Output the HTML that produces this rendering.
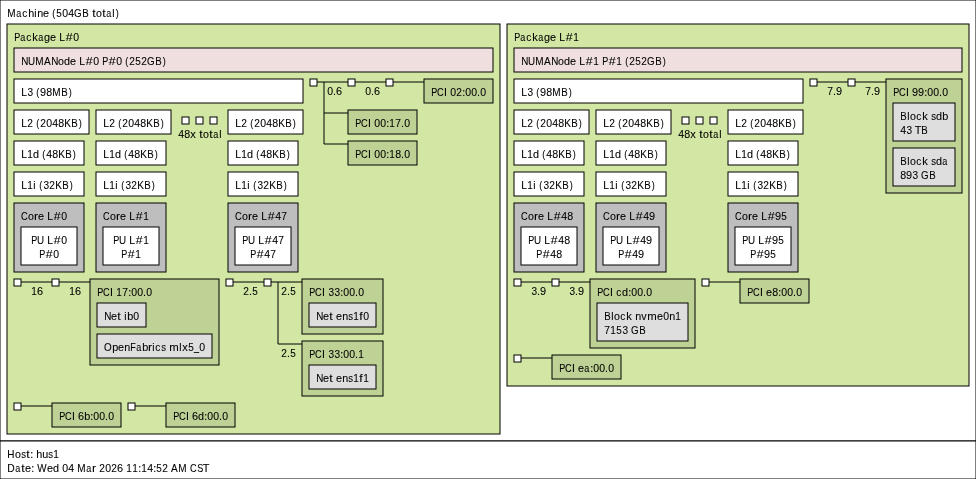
<!DOCTYPE html>
<html><head><meta charset="utf-8"><title>lstopo</title>
<style>
html,body{margin:0;padding:0;background:#fff;overflow:hidden;width:976px;height:479px;}
svg{display:block;will-change:transform;}
text{font-family:"Liberation Sans",sans-serif;font-size:10.5px;fill:#000;stroke:#000;stroke-width:0.08px;}
</style></head>
<body>
<svg width="976" height="479" viewBox="0 0 976 479">
<rect x="0" y="0" width="976" height="441" fill="#ffffff" stroke="#000" stroke-width="1"/>
<text y="17"><tspan x="7.16" textLength="8.31" lengthAdjust="spacingAndGlyphs">M</tspan><tspan x="16.21" textLength="5.02" lengthAdjust="spacingAndGlyphs">a</tspan><tspan x="22.13" textLength="5.02" lengthAdjust="spacingAndGlyphs">c</tspan><tspan x="28.16" textLength="6.04" lengthAdjust="spacingAndGlyphs">h</tspan><tspan x="34.26" textLength="2.27" lengthAdjust="spacingAndGlyphs">i</tspan><tspan x="37.19" textLength="6.00" lengthAdjust="spacingAndGlyphs">n</tspan><tspan x="43.09" textLength="6.01" lengthAdjust="spacingAndGlyphs">e</tspan> <tspan x="52.22" textLength="3.01" lengthAdjust="spacingAndGlyphs">(</tspan><tspan x="56.37" textLength="5.53" lengthAdjust="spacingAndGlyphs">5</tspan><tspan x="62.25">0</tspan><tspan x="68.25">4</tspan><tspan x="74.07" textLength="7.59" lengthAdjust="spacingAndGlyphs">G</tspan><tspan x="82.18" textLength="6.48" lengthAdjust="spacingAndGlyphs">B</tspan> <tspan x="92.21" textLength="3.44" lengthAdjust="spacingAndGlyphs">t</tspan><tspan x="96.11" textLength="5.91" lengthAdjust="spacingAndGlyphs">o</tspan><tspan x="102.21" textLength="3.44" lengthAdjust="spacingAndGlyphs">t</tspan><tspan x="106.21" textLength="5.02" lengthAdjust="spacingAndGlyphs">a</tspan><tspan x="112.25" textLength="2.27" lengthAdjust="spacingAndGlyphs">l</tspan><tspan x="115.67" textLength="3.01" lengthAdjust="spacingAndGlyphs">)</tspan></text>
<rect x="0" y="441" width="976" height="38" fill="#ffffff" stroke="#000" stroke-width="1"/>
<text y="458"><tspan x="7.17" textLength="7.18" lengthAdjust="spacingAndGlyphs">H</tspan><tspan x="15.11" textLength="5.91" lengthAdjust="spacingAndGlyphs">o</tspan><tspan x="21.28" textLength="4.79" lengthAdjust="spacingAndGlyphs">s</tspan><tspan x="26.21" textLength="3.44" lengthAdjust="spacingAndGlyphs">t</tspan><tspan x="30.18" textLength="3.01" lengthAdjust="spacingAndGlyphs">:</tspan> <tspan x="36.16" textLength="6.04" lengthAdjust="spacingAndGlyphs">h</tspan><tspan x="42.15" textLength="6.00" lengthAdjust="spacingAndGlyphs">u</tspan><tspan x="48.28" textLength="4.79" lengthAdjust="spacingAndGlyphs">s</tspan><tspan x="53.33" textLength="5.60" lengthAdjust="spacingAndGlyphs">1</tspan></text>
<text y="472"><tspan x="7.13" textLength="7.47" lengthAdjust="spacingAndGlyphs">D</tspan><tspan x="15.21" textLength="5.02" lengthAdjust="spacingAndGlyphs">a</tspan><tspan x="21.21" textLength="3.44" lengthAdjust="spacingAndGlyphs">t</tspan><tspan x="25.09" textLength="6.01" lengthAdjust="spacingAndGlyphs">e</tspan><tspan x="31.18" textLength="3.01" lengthAdjust="spacingAndGlyphs">:</tspan> <tspan x="37.29" textLength="9.31" lengthAdjust="spacingAndGlyphs">W</tspan><tspan x="47.09" textLength="6.01" lengthAdjust="spacingAndGlyphs">e</tspan><tspan x="53.10" textLength="6.04" lengthAdjust="spacingAndGlyphs">d</tspan> <tspan x="62.25">0</tspan><tspan x="68.25">4</tspan> <tspan x="77.16" textLength="8.31" lengthAdjust="spacingAndGlyphs">M</tspan><tspan x="86.21" textLength="5.02" lengthAdjust="spacingAndGlyphs">a</tspan><tspan x="92.14" textLength="4.13" lengthAdjust="spacingAndGlyphs">r</tspan> <tspan x="99.22" textLength="5.65" lengthAdjust="spacingAndGlyphs">2</tspan><tspan x="105.25">0</tspan><tspan x="111.22" textLength="5.65" lengthAdjust="spacingAndGlyphs">2</tspan><tspan x="117.14" textLength="6.07" lengthAdjust="spacingAndGlyphs">6</tspan> <tspan x="126.33" textLength="5.60" lengthAdjust="spacingAndGlyphs">1</tspan><tspan x="132.33" textLength="5.60" lengthAdjust="spacingAndGlyphs">1</tspan><tspan x="138.18" textLength="3.01" lengthAdjust="spacingAndGlyphs">:</tspan><tspan x="141.33" textLength="5.60" lengthAdjust="spacingAndGlyphs">1</tspan><tspan x="147.25">4</tspan><tspan x="153.18" textLength="3.01" lengthAdjust="spacingAndGlyphs">:</tspan><tspan x="156.37" textLength="5.53" lengthAdjust="spacingAndGlyphs">5</tspan><tspan x="162.22" textLength="5.65" lengthAdjust="spacingAndGlyphs">2</tspan> <tspan x="171.06" textLength="6.72" lengthAdjust="spacingAndGlyphs">A</tspan><tspan x="178.16" textLength="8.31" lengthAdjust="spacingAndGlyphs">M</tspan> <tspan x="190.09" textLength="6.70" lengthAdjust="spacingAndGlyphs">C</tspan><tspan x="197.22" textLength="6.02" lengthAdjust="spacingAndGlyphs">S</tspan><tspan x="202.73" textLength="6.66" lengthAdjust="spacingAndGlyphs">T</tspan></text>
<rect x="7" y="24" width="493" height="410" fill="#d2e7a4" stroke="#000" stroke-width="1"/>
<text y="41"><tspan x="14.19" textLength="6.02" lengthAdjust="spacingAndGlyphs">P</tspan><tspan x="20.21" textLength="5.02" lengthAdjust="spacingAndGlyphs">a</tspan><tspan x="26.13" textLength="5.02" lengthAdjust="spacingAndGlyphs">c</tspan><tspan x="32.15" textLength="5.59" lengthAdjust="spacingAndGlyphs">k</tspan><tspan x="38.21" textLength="5.02" lengthAdjust="spacingAndGlyphs">a</tspan><tspan x="44.10" textLength="6.04" lengthAdjust="spacingAndGlyphs">g</tspan><tspan x="50.09" textLength="6.01" lengthAdjust="spacingAndGlyphs">e</tspan> <tspan x="59.14" textLength="5.72" lengthAdjust="spacingAndGlyphs">L</tspan><tspan x="65.75" textLength="6.89" lengthAdjust="spacingAndGlyphs">#</tspan><tspan x="73.25">0</tspan></text>
<rect x="14" y="48" width="479" height="24" fill="#efdfde" stroke="#000" stroke-width="1"/>
<text y="65"><tspan x="21.17" textLength="7.13" lengthAdjust="spacingAndGlyphs">N</tspan><tspan x="28.11" textLength="7.10" lengthAdjust="spacingAndGlyphs">U</tspan><tspan x="35.16" textLength="8.31" lengthAdjust="spacingAndGlyphs">M</tspan><tspan x="44.06" textLength="6.72" lengthAdjust="spacingAndGlyphs">A</tspan><tspan x="51.17" textLength="7.13" lengthAdjust="spacingAndGlyphs">N</tspan><tspan x="58.11" textLength="5.91" lengthAdjust="spacingAndGlyphs">o</tspan><tspan x="64.10" textLength="6.04" lengthAdjust="spacingAndGlyphs">d</tspan><tspan x="70.09" textLength="6.01" lengthAdjust="spacingAndGlyphs">e</tspan> <tspan x="79.14" textLength="5.72" lengthAdjust="spacingAndGlyphs">L</tspan><tspan x="85.75" textLength="6.89" lengthAdjust="spacingAndGlyphs">#</tspan><tspan x="93.25">0</tspan> <tspan x="102.19" textLength="6.02" lengthAdjust="spacingAndGlyphs">P</tspan><tspan x="108.75" textLength="6.89" lengthAdjust="spacingAndGlyphs">#</tspan><tspan x="116.25">0</tspan> <tspan x="125.22" textLength="3.01" lengthAdjust="spacingAndGlyphs">(</tspan><tspan x="129.22" textLength="5.65" lengthAdjust="spacingAndGlyphs">2</tspan><tspan x="135.37" textLength="5.53" lengthAdjust="spacingAndGlyphs">5</tspan><tspan x="141.22" textLength="5.65" lengthAdjust="spacingAndGlyphs">2</tspan><tspan x="147.07" textLength="7.59" lengthAdjust="spacingAndGlyphs">G</tspan><tspan x="155.18" textLength="6.48" lengthAdjust="spacingAndGlyphs">B</tspan><tspan x="162.67" textLength="3.01" lengthAdjust="spacingAndGlyphs">)</tspan></text>
<rect x="14" y="79" width="289" height="24" fill="#ffffff" stroke="#000" stroke-width="1"/>
<text y="96"><tspan x="21.14" textLength="5.72" lengthAdjust="spacingAndGlyphs">L</tspan><tspan x="27.38" textLength="5.63" lengthAdjust="spacingAndGlyphs">3</tspan> <tspan x="36.22" textLength="3.01" lengthAdjust="spacingAndGlyphs">(</tspan><tspan x="40.12" textLength="6.06" lengthAdjust="spacingAndGlyphs">9</tspan><tspan x="46.22" textLength="5.93" lengthAdjust="spacingAndGlyphs">8</tspan><tspan x="52.16" textLength="8.31" lengthAdjust="spacingAndGlyphs">M</tspan><tspan x="61.18" textLength="6.48" lengthAdjust="spacingAndGlyphs">B</tspan><tspan x="68.67" textLength="3.01" lengthAdjust="spacingAndGlyphs">)</tspan></text>
<rect x="14" y="110" width="75" height="24" fill="#ffffff" stroke="#000" stroke-width="1"/>
<text y="127"><tspan x="21.14" textLength="5.72" lengthAdjust="spacingAndGlyphs">L</tspan><tspan x="27.22" textLength="5.65" lengthAdjust="spacingAndGlyphs">2</tspan> <tspan x="36.22" textLength="3.01" lengthAdjust="spacingAndGlyphs">(</tspan><tspan x="40.22" textLength="5.65" lengthAdjust="spacingAndGlyphs">2</tspan><tspan x="46.25">0</tspan><tspan x="52.25">4</tspan><tspan x="58.22" textLength="5.93" lengthAdjust="spacingAndGlyphs">8</tspan><tspan x="64.15" textLength="6.73" lengthAdjust="spacingAndGlyphs">K</tspan><tspan x="71.18" textLength="6.48" lengthAdjust="spacingAndGlyphs">B</tspan><tspan x="78.67" textLength="3.01" lengthAdjust="spacingAndGlyphs">)</tspan></text>
<rect x="14" y="141" width="70" height="24" fill="#ffffff" stroke="#000" stroke-width="1"/>
<text y="158"><tspan x="21.14" textLength="5.72" lengthAdjust="spacingAndGlyphs">L</tspan><tspan x="27.33" textLength="5.60" lengthAdjust="spacingAndGlyphs">1</tspan><tspan x="33.10" textLength="6.04" lengthAdjust="spacingAndGlyphs">d</tspan> <tspan x="42.22" textLength="3.01" lengthAdjust="spacingAndGlyphs">(</tspan><tspan x="46.25">4</tspan><tspan x="52.22" textLength="5.93" lengthAdjust="spacingAndGlyphs">8</tspan><tspan x="58.15" textLength="6.73" lengthAdjust="spacingAndGlyphs">K</tspan><tspan x="65.18" textLength="6.48" lengthAdjust="spacingAndGlyphs">B</tspan><tspan x="72.67" textLength="3.01" lengthAdjust="spacingAndGlyphs">)</tspan></text>
<rect x="14" y="172" width="70" height="24" fill="#ffffff" stroke="#000" stroke-width="1"/>
<text y="189"><tspan x="21.14" textLength="5.72" lengthAdjust="spacingAndGlyphs">L</tspan><tspan x="27.33" textLength="5.60" lengthAdjust="spacingAndGlyphs">1</tspan><tspan x="33.26" textLength="2.27" lengthAdjust="spacingAndGlyphs">i</tspan> <tspan x="39.22" textLength="3.01" lengthAdjust="spacingAndGlyphs">(</tspan><tspan x="43.38" textLength="5.63" lengthAdjust="spacingAndGlyphs">3</tspan><tspan x="49.22" textLength="5.65" lengthAdjust="spacingAndGlyphs">2</tspan><tspan x="55.15" textLength="6.73" lengthAdjust="spacingAndGlyphs">K</tspan><tspan x="62.18" textLength="6.48" lengthAdjust="spacingAndGlyphs">B</tspan><tspan x="69.67" textLength="3.01" lengthAdjust="spacingAndGlyphs">)</tspan></text>
<rect x="14" y="203" width="70" height="69" fill="#bebebe" stroke="#000" stroke-width="1"/>
<text y="220"><tspan x="21.09" textLength="6.70" lengthAdjust="spacingAndGlyphs">C</tspan><tspan x="28.11" textLength="5.91" lengthAdjust="spacingAndGlyphs">o</tspan><tspan x="34.14" textLength="4.13" lengthAdjust="spacingAndGlyphs">r</tspan><tspan x="38.09" textLength="6.01" lengthAdjust="spacingAndGlyphs">e</tspan> <tspan x="47.14" textLength="5.72" lengthAdjust="spacingAndGlyphs">L</tspan><tspan x="53.75" textLength="6.89" lengthAdjust="spacingAndGlyphs">#</tspan><tspan x="61.25">0</tspan></text>
<rect x="21" y="227" width="56" height="38" fill="#ffffff" stroke="#000" stroke-width="1"/>
<text y="244"><tspan x="31.19" textLength="6.02" lengthAdjust="spacingAndGlyphs">P</tspan><tspan x="37.11" textLength="7.10" lengthAdjust="spacingAndGlyphs">U</tspan> <tspan x="47.14" textLength="5.72" lengthAdjust="spacingAndGlyphs">L</tspan><tspan x="53.75" textLength="6.89" lengthAdjust="spacingAndGlyphs">#</tspan><tspan x="61.25">0</tspan></text>
<text y="258"><tspan x="39.19" textLength="6.02" lengthAdjust="spacingAndGlyphs">P</tspan><tspan x="45.75" textLength="6.89" lengthAdjust="spacingAndGlyphs">#</tspan><tspan x="53.25">0</tspan></text>
<rect x="96" y="110" width="75" height="24" fill="#ffffff" stroke="#000" stroke-width="1"/>
<text y="127"><tspan x="103.14" textLength="5.72" lengthAdjust="spacingAndGlyphs">L</tspan><tspan x="109.22" textLength="5.65" lengthAdjust="spacingAndGlyphs">2</tspan> <tspan x="118.22" textLength="3.01" lengthAdjust="spacingAndGlyphs">(</tspan><tspan x="122.22" textLength="5.65" lengthAdjust="spacingAndGlyphs">2</tspan><tspan x="128.25">0</tspan><tspan x="134.25">4</tspan><tspan x="140.22" textLength="5.93" lengthAdjust="spacingAndGlyphs">8</tspan><tspan x="146.15" textLength="6.73" lengthAdjust="spacingAndGlyphs">K</tspan><tspan x="153.18" textLength="6.48" lengthAdjust="spacingAndGlyphs">B</tspan><tspan x="160.67" textLength="3.01" lengthAdjust="spacingAndGlyphs">)</tspan></text>
<rect x="96" y="141" width="70" height="24" fill="#ffffff" stroke="#000" stroke-width="1"/>
<text y="158"><tspan x="103.14" textLength="5.72" lengthAdjust="spacingAndGlyphs">L</tspan><tspan x="109.33" textLength="5.60" lengthAdjust="spacingAndGlyphs">1</tspan><tspan x="115.10" textLength="6.04" lengthAdjust="spacingAndGlyphs">d</tspan> <tspan x="124.22" textLength="3.01" lengthAdjust="spacingAndGlyphs">(</tspan><tspan x="128.25">4</tspan><tspan x="134.22" textLength="5.93" lengthAdjust="spacingAndGlyphs">8</tspan><tspan x="140.15" textLength="6.73" lengthAdjust="spacingAndGlyphs">K</tspan><tspan x="147.18" textLength="6.48" lengthAdjust="spacingAndGlyphs">B</tspan><tspan x="154.67" textLength="3.01" lengthAdjust="spacingAndGlyphs">)</tspan></text>
<rect x="96" y="172" width="70" height="24" fill="#ffffff" stroke="#000" stroke-width="1"/>
<text y="189"><tspan x="103.14" textLength="5.72" lengthAdjust="spacingAndGlyphs">L</tspan><tspan x="109.33" textLength="5.60" lengthAdjust="spacingAndGlyphs">1</tspan><tspan x="115.26" textLength="2.27" lengthAdjust="spacingAndGlyphs">i</tspan> <tspan x="121.22" textLength="3.01" lengthAdjust="spacingAndGlyphs">(</tspan><tspan x="125.38" textLength="5.63" lengthAdjust="spacingAndGlyphs">3</tspan><tspan x="131.22" textLength="5.65" lengthAdjust="spacingAndGlyphs">2</tspan><tspan x="137.15" textLength="6.73" lengthAdjust="spacingAndGlyphs">K</tspan><tspan x="144.18" textLength="6.48" lengthAdjust="spacingAndGlyphs">B</tspan><tspan x="151.67" textLength="3.01" lengthAdjust="spacingAndGlyphs">)</tspan></text>
<rect x="96" y="203" width="70" height="69" fill="#bebebe" stroke="#000" stroke-width="1"/>
<text y="220"><tspan x="103.09" textLength="6.70" lengthAdjust="spacingAndGlyphs">C</tspan><tspan x="110.11" textLength="5.91" lengthAdjust="spacingAndGlyphs">o</tspan><tspan x="116.14" textLength="4.13" lengthAdjust="spacingAndGlyphs">r</tspan><tspan x="120.09" textLength="6.01" lengthAdjust="spacingAndGlyphs">e</tspan> <tspan x="129.14" textLength="5.72" lengthAdjust="spacingAndGlyphs">L</tspan><tspan x="135.75" textLength="6.89" lengthAdjust="spacingAndGlyphs">#</tspan><tspan x="143.33" textLength="5.60" lengthAdjust="spacingAndGlyphs">1</tspan></text>
<rect x="103" y="227" width="56" height="38" fill="#ffffff" stroke="#000" stroke-width="1"/>
<text y="244"><tspan x="113.19" textLength="6.02" lengthAdjust="spacingAndGlyphs">P</tspan><tspan x="119.11" textLength="7.10" lengthAdjust="spacingAndGlyphs">U</tspan> <tspan x="129.14" textLength="5.72" lengthAdjust="spacingAndGlyphs">L</tspan><tspan x="135.75" textLength="6.89" lengthAdjust="spacingAndGlyphs">#</tspan><tspan x="143.33" textLength="5.60" lengthAdjust="spacingAndGlyphs">1</tspan></text>
<text y="258"><tspan x="121.19" textLength="6.02" lengthAdjust="spacingAndGlyphs">P</tspan><tspan x="127.75" textLength="6.89" lengthAdjust="spacingAndGlyphs">#</tspan><tspan x="135.33" textLength="5.60" lengthAdjust="spacingAndGlyphs">1</tspan></text>
<rect x="228" y="110" width="75" height="24" fill="#ffffff" stroke="#000" stroke-width="1"/>
<text y="127"><tspan x="235.14" textLength="5.72" lengthAdjust="spacingAndGlyphs">L</tspan><tspan x="241.22" textLength="5.65" lengthAdjust="spacingAndGlyphs">2</tspan> <tspan x="250.22" textLength="3.01" lengthAdjust="spacingAndGlyphs">(</tspan><tspan x="254.22" textLength="5.65" lengthAdjust="spacingAndGlyphs">2</tspan><tspan x="260.25">0</tspan><tspan x="266.25">4</tspan><tspan x="272.22" textLength="5.93" lengthAdjust="spacingAndGlyphs">8</tspan><tspan x="278.15" textLength="6.73" lengthAdjust="spacingAndGlyphs">K</tspan><tspan x="285.18" textLength="6.48" lengthAdjust="spacingAndGlyphs">B</tspan><tspan x="292.67" textLength="3.01" lengthAdjust="spacingAndGlyphs">)</tspan></text>
<rect x="228" y="141" width="70" height="24" fill="#ffffff" stroke="#000" stroke-width="1"/>
<text y="158"><tspan x="235.14" textLength="5.72" lengthAdjust="spacingAndGlyphs">L</tspan><tspan x="241.33" textLength="5.60" lengthAdjust="spacingAndGlyphs">1</tspan><tspan x="247.10" textLength="6.04" lengthAdjust="spacingAndGlyphs">d</tspan> <tspan x="256.22" textLength="3.01" lengthAdjust="spacingAndGlyphs">(</tspan><tspan x="260.25">4</tspan><tspan x="266.22" textLength="5.93" lengthAdjust="spacingAndGlyphs">8</tspan><tspan x="272.15" textLength="6.73" lengthAdjust="spacingAndGlyphs">K</tspan><tspan x="279.18" textLength="6.48" lengthAdjust="spacingAndGlyphs">B</tspan><tspan x="286.67" textLength="3.01" lengthAdjust="spacingAndGlyphs">)</tspan></text>
<rect x="228" y="172" width="70" height="24" fill="#ffffff" stroke="#000" stroke-width="1"/>
<text y="189"><tspan x="235.14" textLength="5.72" lengthAdjust="spacingAndGlyphs">L</tspan><tspan x="241.33" textLength="5.60" lengthAdjust="spacingAndGlyphs">1</tspan><tspan x="247.26" textLength="2.27" lengthAdjust="spacingAndGlyphs">i</tspan> <tspan x="253.22" textLength="3.01" lengthAdjust="spacingAndGlyphs">(</tspan><tspan x="257.38" textLength="5.63" lengthAdjust="spacingAndGlyphs">3</tspan><tspan x="263.22" textLength="5.65" lengthAdjust="spacingAndGlyphs">2</tspan><tspan x="269.15" textLength="6.73" lengthAdjust="spacingAndGlyphs">K</tspan><tspan x="276.18" textLength="6.48" lengthAdjust="spacingAndGlyphs">B</tspan><tspan x="283.67" textLength="3.01" lengthAdjust="spacingAndGlyphs">)</tspan></text>
<rect x="228" y="203" width="70" height="69" fill="#bebebe" stroke="#000" stroke-width="1"/>
<text y="220"><tspan x="235.09" textLength="6.70" lengthAdjust="spacingAndGlyphs">C</tspan><tspan x="242.11" textLength="5.91" lengthAdjust="spacingAndGlyphs">o</tspan><tspan x="248.14" textLength="4.13" lengthAdjust="spacingAndGlyphs">r</tspan><tspan x="252.09" textLength="6.01" lengthAdjust="spacingAndGlyphs">e</tspan> <tspan x="261.14" textLength="5.72" lengthAdjust="spacingAndGlyphs">L</tspan><tspan x="267.75" textLength="6.89" lengthAdjust="spacingAndGlyphs">#</tspan><tspan x="275.25">4</tspan><tspan x="281.29" textLength="5.73" lengthAdjust="spacingAndGlyphs">7</tspan></text>
<rect x="235" y="227" width="56" height="38" fill="#ffffff" stroke="#000" stroke-width="1"/>
<text y="244"><tspan x="242.19" textLength="6.02" lengthAdjust="spacingAndGlyphs">P</tspan><tspan x="248.11" textLength="7.10" lengthAdjust="spacingAndGlyphs">U</tspan> <tspan x="258.14" textLength="5.72" lengthAdjust="spacingAndGlyphs">L</tspan><tspan x="264.75" textLength="6.89" lengthAdjust="spacingAndGlyphs">#</tspan><tspan x="272.25">4</tspan><tspan x="278.29" textLength="5.73" lengthAdjust="spacingAndGlyphs">7</tspan></text>
<text y="258"><tspan x="250.19" textLength="6.02" lengthAdjust="spacingAndGlyphs">P</tspan><tspan x="256.75" textLength="6.89" lengthAdjust="spacingAndGlyphs">#</tspan><tspan x="264.25">4</tspan><tspan x="270.29" textLength="5.73" lengthAdjust="spacingAndGlyphs">7</tspan></text>
<rect x="182" y="117" width="7" height="7" fill="#ffffff" stroke="#000" stroke-width="1"/>
<rect x="196" y="117" width="7" height="7" fill="#ffffff" stroke="#000" stroke-width="1"/>
<rect x="210" y="117" width="7" height="7" fill="#ffffff" stroke="#000" stroke-width="1"/>
<text y="138"><tspan x="178.25">4</tspan><tspan x="184.22" textLength="5.93" lengthAdjust="spacingAndGlyphs">8</tspan><tspan x="190.16" textLength="5.55" lengthAdjust="spacingAndGlyphs">x</tspan> <tspan x="199.21" textLength="3.44" lengthAdjust="spacingAndGlyphs">t</tspan><tspan x="203.11" textLength="5.91" lengthAdjust="spacingAndGlyphs">o</tspan><tspan x="209.21" textLength="3.44" lengthAdjust="spacingAndGlyphs">t</tspan><tspan x="213.21" textLength="5.02" lengthAdjust="spacingAndGlyphs">a</tspan><tspan x="219.25" textLength="2.27" lengthAdjust="spacingAndGlyphs">l</tspan></text>
<rect x="310" y="79" width="7" height="7" fill="#ffffff" stroke="#000" stroke-width="1"/>
<line x1="317" y1="82" x2="324" y2="82" stroke="#000" stroke-width="1"/>
<line x1="324" y1="82" x2="348" y2="82" stroke="#000" stroke-width="1"/>
<text y="95"><tspan x="327.25">0</tspan><tspan x="333.08" textLength="3.01" lengthAdjust="spacingAndGlyphs">.</tspan><tspan x="336.14" textLength="6.07" lengthAdjust="spacingAndGlyphs">6</tspan></text>
<line x1="324" y1="113" x2="348" y2="113" stroke="#000" stroke-width="1"/>
<line x1="324" y1="144" x2="348" y2="144" stroke="#000" stroke-width="1"/>
<line x1="324" y1="82" x2="324" y2="144" stroke="#000" stroke-width="1"/>
<rect x="348" y="79" width="7" height="7" fill="#ffffff" stroke="#000" stroke-width="1"/>
<line x1="355" y1="82" x2="362" y2="82" stroke="#000" stroke-width="1"/>
<line x1="362" y1="82" x2="386" y2="82" stroke="#000" stroke-width="1"/>
<text y="95"><tspan x="365.25">0</tspan><tspan x="371.08" textLength="3.01" lengthAdjust="spacingAndGlyphs">.</tspan><tspan x="374.14" textLength="6.07" lengthAdjust="spacingAndGlyphs">6</tspan></text>
<rect x="386" y="79" width="7" height="7" fill="#ffffff" stroke="#000" stroke-width="1"/>
<line x1="393" y1="82" x2="400" y2="82" stroke="#000" stroke-width="1"/>
<line x1="400" y1="82" x2="424" y2="82" stroke="#000" stroke-width="1"/>
<rect x="424" y="79" width="69" height="24" fill="#bed295" stroke="#000" stroke-width="1"/>
<text y="96"><tspan x="431.19" textLength="6.02" lengthAdjust="spacingAndGlyphs">P</tspan><tspan x="437.09" textLength="6.70" lengthAdjust="spacingAndGlyphs">C</tspan><tspan x="444.01">I</tspan> <tspan x="450.25">0</tspan><tspan x="456.22" textLength="5.65" lengthAdjust="spacingAndGlyphs">2</tspan><tspan x="462.18" textLength="3.01" lengthAdjust="spacingAndGlyphs">:</tspan><tspan x="465.25">0</tspan><tspan x="471.25">0</tspan><tspan x="477.08" textLength="3.01" lengthAdjust="spacingAndGlyphs">.</tspan><tspan x="480.25">0</tspan></text>
<rect x="348" y="110" width="69" height="24" fill="#bed295" stroke="#000" stroke-width="1"/>
<text y="127"><tspan x="355.19" textLength="6.02" lengthAdjust="spacingAndGlyphs">P</tspan><tspan x="361.09" textLength="6.70" lengthAdjust="spacingAndGlyphs">C</tspan><tspan x="368.01">I</tspan> <tspan x="374.25">0</tspan><tspan x="380.25">0</tspan><tspan x="386.18" textLength="3.01" lengthAdjust="spacingAndGlyphs">:</tspan><tspan x="389.33" textLength="5.60" lengthAdjust="spacingAndGlyphs">1</tspan><tspan x="395.29" textLength="5.73" lengthAdjust="spacingAndGlyphs">7</tspan><tspan x="401.08" textLength="3.01" lengthAdjust="spacingAndGlyphs">.</tspan><tspan x="404.25">0</tspan></text>
<rect x="348" y="141" width="69" height="24" fill="#bed295" stroke="#000" stroke-width="1"/>
<text y="158"><tspan x="355.19" textLength="6.02" lengthAdjust="spacingAndGlyphs">P</tspan><tspan x="361.09" textLength="6.70" lengthAdjust="spacingAndGlyphs">C</tspan><tspan x="368.01">I</tspan> <tspan x="374.25">0</tspan><tspan x="380.25">0</tspan><tspan x="386.18" textLength="3.01" lengthAdjust="spacingAndGlyphs">:</tspan><tspan x="389.33" textLength="5.60" lengthAdjust="spacingAndGlyphs">1</tspan><tspan x="395.22" textLength="5.93" lengthAdjust="spacingAndGlyphs">8</tspan><tspan x="401.08" textLength="3.01" lengthAdjust="spacingAndGlyphs">.</tspan><tspan x="404.25">0</tspan></text>
<rect x="14" y="279" width="7" height="7" fill="#ffffff" stroke="#000" stroke-width="1"/>
<line x1="21" y1="282" x2="28" y2="282" stroke="#000" stroke-width="1"/>
<line x1="28" y1="282" x2="52" y2="282" stroke="#000" stroke-width="1"/>
<text y="295"><tspan x="31.33" textLength="5.60" lengthAdjust="spacingAndGlyphs">1</tspan><tspan x="37.14" textLength="6.07" lengthAdjust="spacingAndGlyphs">6</tspan></text>
<rect x="52" y="279" width="7" height="7" fill="#ffffff" stroke="#000" stroke-width="1"/>
<line x1="59" y1="282" x2="66" y2="282" stroke="#000" stroke-width="1"/>
<line x1="66" y1="282" x2="90" y2="282" stroke="#000" stroke-width="1"/>
<text y="295"><tspan x="69.33" textLength="5.60" lengthAdjust="spacingAndGlyphs">1</tspan><tspan x="75.14" textLength="6.07" lengthAdjust="spacingAndGlyphs">6</tspan></text>
<rect x="90" y="279" width="129" height="86" fill="#bed295" stroke="#000" stroke-width="1"/>
<text y="296"><tspan x="97.19" textLength="6.02" lengthAdjust="spacingAndGlyphs">P</tspan><tspan x="103.09" textLength="6.70" lengthAdjust="spacingAndGlyphs">C</tspan><tspan x="110.01">I</tspan> <tspan x="116.33" textLength="5.60" lengthAdjust="spacingAndGlyphs">1</tspan><tspan x="122.29" textLength="5.73" lengthAdjust="spacingAndGlyphs">7</tspan><tspan x="128.18" textLength="3.01" lengthAdjust="spacingAndGlyphs">:</tspan><tspan x="131.25">0</tspan><tspan x="137.25">0</tspan><tspan x="143.08" textLength="3.01" lengthAdjust="spacingAndGlyphs">.</tspan><tspan x="146.25">0</tspan></text>
<rect x="97" y="303" width="49" height="24" fill="#dedede" stroke="#000" stroke-width="1"/>
<text y="320"><tspan x="104.17" textLength="7.13" lengthAdjust="spacingAndGlyphs">N</tspan><tspan x="111.09" textLength="6.01" lengthAdjust="spacingAndGlyphs">e</tspan><tspan x="117.21" textLength="3.44" lengthAdjust="spacingAndGlyphs">t</tspan> <tspan x="124.26" textLength="2.27" lengthAdjust="spacingAndGlyphs">i</tspan><tspan x="127.21" textLength="6.05" lengthAdjust="spacingAndGlyphs">b</tspan><tspan x="133.25">0</tspan></text>
<rect x="97" y="334" width="115" height="24" fill="#dedede" stroke="#000" stroke-width="1"/>
<text y="351"><tspan x="104.09" textLength="7.69" lengthAdjust="spacingAndGlyphs">O</tspan><tspan x="112.21" textLength="6.05" lengthAdjust="spacingAndGlyphs">p</tspan><tspan x="118.09" textLength="6.01" lengthAdjust="spacingAndGlyphs">e</tspan><tspan x="124.19" textLength="6.00" lengthAdjust="spacingAndGlyphs">n</tspan><tspan x="130.13" textLength="5.52" lengthAdjust="spacingAndGlyphs">F</tspan><tspan x="136.21" textLength="5.02" lengthAdjust="spacingAndGlyphs">a</tspan><tspan x="142.21" textLength="6.05" lengthAdjust="spacingAndGlyphs">b</tspan><tspan x="148.14" textLength="4.13" lengthAdjust="spacingAndGlyphs">r</tspan><tspan x="152.26" textLength="2.27" lengthAdjust="spacingAndGlyphs">i</tspan><tspan x="155.13" textLength="5.02" lengthAdjust="spacingAndGlyphs">c</tspan><tspan x="161.28" textLength="4.79" lengthAdjust="spacingAndGlyphs">s</tspan> <tspan x="169.15" textLength="9.49" lengthAdjust="spacingAndGlyphs">m</tspan><tspan x="179.25" textLength="2.27" lengthAdjust="spacingAndGlyphs">l</tspan><tspan x="182.16" textLength="5.55" lengthAdjust="spacingAndGlyphs">x</tspan><tspan x="188.37" textLength="5.53" lengthAdjust="spacingAndGlyphs">5</tspan><tspan x="194.01" textLength="5.02" lengthAdjust="spacingAndGlyphs">_</tspan><tspan x="199.25">0</tspan></text>
<rect x="226" y="279" width="7" height="7" fill="#ffffff" stroke="#000" stroke-width="1"/>
<line x1="233" y1="282" x2="240" y2="282" stroke="#000" stroke-width="1"/>
<line x1="240" y1="282" x2="264" y2="282" stroke="#000" stroke-width="1"/>
<text y="295"><tspan x="243.22" textLength="5.65" lengthAdjust="spacingAndGlyphs">2</tspan><tspan x="249.08" textLength="3.01" lengthAdjust="spacingAndGlyphs">.</tspan><tspan x="252.37" textLength="5.53" lengthAdjust="spacingAndGlyphs">5</tspan></text>
<rect x="264" y="279" width="7" height="7" fill="#ffffff" stroke="#000" stroke-width="1"/>
<line x1="271" y1="282" x2="278" y2="282" stroke="#000" stroke-width="1"/>
<line x1="278" y1="282" x2="302" y2="282" stroke="#000" stroke-width="1"/>
<text y="295"><tspan x="281.22" textLength="5.65" lengthAdjust="spacingAndGlyphs">2</tspan><tspan x="287.08" textLength="3.01" lengthAdjust="spacingAndGlyphs">.</tspan><tspan x="290.37" textLength="5.53" lengthAdjust="spacingAndGlyphs">5</tspan></text>
<line x1="278" y1="344" x2="302" y2="344" stroke="#000" stroke-width="1"/>
<text y="357"><tspan x="281.22" textLength="5.65" lengthAdjust="spacingAndGlyphs">2</tspan><tspan x="287.08" textLength="3.01" lengthAdjust="spacingAndGlyphs">.</tspan><tspan x="290.37" textLength="5.53" lengthAdjust="spacingAndGlyphs">5</tspan></text>
<line x1="278" y1="282" x2="278" y2="344" stroke="#000" stroke-width="1"/>
<rect x="302" y="279" width="81" height="55" fill="#bed295" stroke="#000" stroke-width="1"/>
<text y="296"><tspan x="309.19" textLength="6.02" lengthAdjust="spacingAndGlyphs">P</tspan><tspan x="315.09" textLength="6.70" lengthAdjust="spacingAndGlyphs">C</tspan><tspan x="322.01">I</tspan> <tspan x="328.38" textLength="5.63" lengthAdjust="spacingAndGlyphs">3</tspan><tspan x="334.38" textLength="5.63" lengthAdjust="spacingAndGlyphs">3</tspan><tspan x="340.18" textLength="3.01" lengthAdjust="spacingAndGlyphs">:</tspan><tspan x="343.25">0</tspan><tspan x="349.25">0</tspan><tspan x="355.08" textLength="3.01" lengthAdjust="spacingAndGlyphs">.</tspan><tspan x="358.25">0</tspan></text>
<rect x="309" y="303" width="67" height="24" fill="#dedede" stroke="#000" stroke-width="1"/>
<text y="320"><tspan x="316.17" textLength="7.13" lengthAdjust="spacingAndGlyphs">N</tspan><tspan x="323.09" textLength="6.01" lengthAdjust="spacingAndGlyphs">e</tspan><tspan x="329.21" textLength="3.44" lengthAdjust="spacingAndGlyphs">t</tspan> <tspan x="336.09" textLength="6.01" lengthAdjust="spacingAndGlyphs">e</tspan><tspan x="342.19" textLength="6.00" lengthAdjust="spacingAndGlyphs">n</tspan><tspan x="348.28" textLength="4.79" lengthAdjust="spacingAndGlyphs">s</tspan><tspan x="353.33" textLength="5.60" lengthAdjust="spacingAndGlyphs">1</tspan><tspan x="359.15" textLength="3.44" lengthAdjust="spacingAndGlyphs">f</tspan><tspan x="363.25">0</tspan></text>
<rect x="302" y="341" width="81" height="55" fill="#bed295" stroke="#000" stroke-width="1"/>
<text y="358"><tspan x="309.19" textLength="6.02" lengthAdjust="spacingAndGlyphs">P</tspan><tspan x="315.09" textLength="6.70" lengthAdjust="spacingAndGlyphs">C</tspan><tspan x="322.01">I</tspan> <tspan x="328.38" textLength="5.63" lengthAdjust="spacingAndGlyphs">3</tspan><tspan x="334.38" textLength="5.63" lengthAdjust="spacingAndGlyphs">3</tspan><tspan x="340.18" textLength="3.01" lengthAdjust="spacingAndGlyphs">:</tspan><tspan x="343.25">0</tspan><tspan x="349.25">0</tspan><tspan x="355.08" textLength="3.01" lengthAdjust="spacingAndGlyphs">.</tspan><tspan x="358.33" textLength="5.60" lengthAdjust="spacingAndGlyphs">1</tspan></text>
<rect x="309" y="365" width="67" height="24" fill="#dedede" stroke="#000" stroke-width="1"/>
<text y="382"><tspan x="316.17" textLength="7.13" lengthAdjust="spacingAndGlyphs">N</tspan><tspan x="323.09" textLength="6.01" lengthAdjust="spacingAndGlyphs">e</tspan><tspan x="329.21" textLength="3.44" lengthAdjust="spacingAndGlyphs">t</tspan> <tspan x="336.09" textLength="6.01" lengthAdjust="spacingAndGlyphs">e</tspan><tspan x="342.19" textLength="6.00" lengthAdjust="spacingAndGlyphs">n</tspan><tspan x="348.28" textLength="4.79" lengthAdjust="spacingAndGlyphs">s</tspan><tspan x="353.33" textLength="5.60" lengthAdjust="spacingAndGlyphs">1</tspan><tspan x="359.15" textLength="3.44" lengthAdjust="spacingAndGlyphs">f</tspan><tspan x="363.33" textLength="5.60" lengthAdjust="spacingAndGlyphs">1</tspan></text>
<rect x="14" y="403" width="7" height="7" fill="#ffffff" stroke="#000" stroke-width="1"/>
<line x1="21" y1="406" x2="28" y2="406" stroke="#000" stroke-width="1"/>
<line x1="28" y1="406" x2="52" y2="406" stroke="#000" stroke-width="1"/>
<rect x="52" y="403" width="69" height="24" fill="#bed295" stroke="#000" stroke-width="1"/>
<text y="420"><tspan x="59.19" textLength="6.02" lengthAdjust="spacingAndGlyphs">P</tspan><tspan x="65.09" textLength="6.70" lengthAdjust="spacingAndGlyphs">C</tspan><tspan x="72.01">I</tspan> <tspan x="78.14" textLength="6.07" lengthAdjust="spacingAndGlyphs">6</tspan><tspan x="84.21" textLength="6.05" lengthAdjust="spacingAndGlyphs">b</tspan><tspan x="90.18" textLength="3.01" lengthAdjust="spacingAndGlyphs">:</tspan><tspan x="93.25">0</tspan><tspan x="99.25">0</tspan><tspan x="105.08" textLength="3.01" lengthAdjust="spacingAndGlyphs">.</tspan><tspan x="108.25">0</tspan></text>
<rect x="128" y="403" width="7" height="7" fill="#ffffff" stroke="#000" stroke-width="1"/>
<line x1="135" y1="406" x2="142" y2="406" stroke="#000" stroke-width="1"/>
<line x1="142" y1="406" x2="166" y2="406" stroke="#000" stroke-width="1"/>
<rect x="166" y="403" width="69" height="24" fill="#bed295" stroke="#000" stroke-width="1"/>
<text y="420"><tspan x="173.19" textLength="6.02" lengthAdjust="spacingAndGlyphs">P</tspan><tspan x="179.09" textLength="6.70" lengthAdjust="spacingAndGlyphs">C</tspan><tspan x="186.01">I</tspan> <tspan x="192.14" textLength="6.07" lengthAdjust="spacingAndGlyphs">6</tspan><tspan x="198.10" textLength="6.04" lengthAdjust="spacingAndGlyphs">d</tspan><tspan x="204.18" textLength="3.01" lengthAdjust="spacingAndGlyphs">:</tspan><tspan x="207.25">0</tspan><tspan x="213.25">0</tspan><tspan x="219.08" textLength="3.01" lengthAdjust="spacingAndGlyphs">.</tspan><tspan x="222.25">0</tspan></text>
<rect x="507" y="24" width="462" height="362" fill="#d2e7a4" stroke="#000" stroke-width="1"/>
<text y="41"><tspan x="514.19" textLength="6.02" lengthAdjust="spacingAndGlyphs">P</tspan><tspan x="520.21" textLength="5.02" lengthAdjust="spacingAndGlyphs">a</tspan><tspan x="526.13" textLength="5.02" lengthAdjust="spacingAndGlyphs">c</tspan><tspan x="532.15" textLength="5.59" lengthAdjust="spacingAndGlyphs">k</tspan><tspan x="538.21" textLength="5.02" lengthAdjust="spacingAndGlyphs">a</tspan><tspan x="544.10" textLength="6.04" lengthAdjust="spacingAndGlyphs">g</tspan><tspan x="550.09" textLength="6.01" lengthAdjust="spacingAndGlyphs">e</tspan> <tspan x="559.14" textLength="5.72" lengthAdjust="spacingAndGlyphs">L</tspan><tspan x="565.75" textLength="6.89" lengthAdjust="spacingAndGlyphs">#</tspan><tspan x="573.33" textLength="5.60" lengthAdjust="spacingAndGlyphs">1</tspan></text>
<rect x="514" y="48" width="448" height="24" fill="#efdfde" stroke="#000" stroke-width="1"/>
<text y="65"><tspan x="521.17" textLength="7.13" lengthAdjust="spacingAndGlyphs">N</tspan><tspan x="528.11" textLength="7.10" lengthAdjust="spacingAndGlyphs">U</tspan><tspan x="535.16" textLength="8.31" lengthAdjust="spacingAndGlyphs">M</tspan><tspan x="544.06" textLength="6.72" lengthAdjust="spacingAndGlyphs">A</tspan><tspan x="551.17" textLength="7.13" lengthAdjust="spacingAndGlyphs">N</tspan><tspan x="558.11" textLength="5.91" lengthAdjust="spacingAndGlyphs">o</tspan><tspan x="564.10" textLength="6.04" lengthAdjust="spacingAndGlyphs">d</tspan><tspan x="570.09" textLength="6.01" lengthAdjust="spacingAndGlyphs">e</tspan> <tspan x="579.14" textLength="5.72" lengthAdjust="spacingAndGlyphs">L</tspan><tspan x="585.75" textLength="6.89" lengthAdjust="spacingAndGlyphs">#</tspan><tspan x="593.33" textLength="5.60" lengthAdjust="spacingAndGlyphs">1</tspan> <tspan x="602.19" textLength="6.02" lengthAdjust="spacingAndGlyphs">P</tspan><tspan x="608.75" textLength="6.89" lengthAdjust="spacingAndGlyphs">#</tspan><tspan x="616.33" textLength="5.60" lengthAdjust="spacingAndGlyphs">1</tspan> <tspan x="625.22" textLength="3.01" lengthAdjust="spacingAndGlyphs">(</tspan><tspan x="629.22" textLength="5.65" lengthAdjust="spacingAndGlyphs">2</tspan><tspan x="635.37" textLength="5.53" lengthAdjust="spacingAndGlyphs">5</tspan><tspan x="641.22" textLength="5.65" lengthAdjust="spacingAndGlyphs">2</tspan><tspan x="647.07" textLength="7.59" lengthAdjust="spacingAndGlyphs">G</tspan><tspan x="655.18" textLength="6.48" lengthAdjust="spacingAndGlyphs">B</tspan><tspan x="662.67" textLength="3.01" lengthAdjust="spacingAndGlyphs">)</tspan></text>
<rect x="514" y="79" width="289" height="24" fill="#ffffff" stroke="#000" stroke-width="1"/>
<text y="96"><tspan x="521.14" textLength="5.72" lengthAdjust="spacingAndGlyphs">L</tspan><tspan x="527.38" textLength="5.63" lengthAdjust="spacingAndGlyphs">3</tspan> <tspan x="536.22" textLength="3.01" lengthAdjust="spacingAndGlyphs">(</tspan><tspan x="540.12" textLength="6.06" lengthAdjust="spacingAndGlyphs">9</tspan><tspan x="546.22" textLength="5.93" lengthAdjust="spacingAndGlyphs">8</tspan><tspan x="552.16" textLength="8.31" lengthAdjust="spacingAndGlyphs">M</tspan><tspan x="561.18" textLength="6.48" lengthAdjust="spacingAndGlyphs">B</tspan><tspan x="568.67" textLength="3.01" lengthAdjust="spacingAndGlyphs">)</tspan></text>
<rect x="514" y="110" width="75" height="24" fill="#ffffff" stroke="#000" stroke-width="1"/>
<text y="127"><tspan x="521.14" textLength="5.72" lengthAdjust="spacingAndGlyphs">L</tspan><tspan x="527.22" textLength="5.65" lengthAdjust="spacingAndGlyphs">2</tspan> <tspan x="536.22" textLength="3.01" lengthAdjust="spacingAndGlyphs">(</tspan><tspan x="540.22" textLength="5.65" lengthAdjust="spacingAndGlyphs">2</tspan><tspan x="546.25">0</tspan><tspan x="552.25">4</tspan><tspan x="558.22" textLength="5.93" lengthAdjust="spacingAndGlyphs">8</tspan><tspan x="564.15" textLength="6.73" lengthAdjust="spacingAndGlyphs">K</tspan><tspan x="571.18" textLength="6.48" lengthAdjust="spacingAndGlyphs">B</tspan><tspan x="578.67" textLength="3.01" lengthAdjust="spacingAndGlyphs">)</tspan></text>
<rect x="514" y="141" width="70" height="24" fill="#ffffff" stroke="#000" stroke-width="1"/>
<text y="158"><tspan x="521.14" textLength="5.72" lengthAdjust="spacingAndGlyphs">L</tspan><tspan x="527.33" textLength="5.60" lengthAdjust="spacingAndGlyphs">1</tspan><tspan x="533.10" textLength="6.04" lengthAdjust="spacingAndGlyphs">d</tspan> <tspan x="542.22" textLength="3.01" lengthAdjust="spacingAndGlyphs">(</tspan><tspan x="546.25">4</tspan><tspan x="552.22" textLength="5.93" lengthAdjust="spacingAndGlyphs">8</tspan><tspan x="558.15" textLength="6.73" lengthAdjust="spacingAndGlyphs">K</tspan><tspan x="565.18" textLength="6.48" lengthAdjust="spacingAndGlyphs">B</tspan><tspan x="572.67" textLength="3.01" lengthAdjust="spacingAndGlyphs">)</tspan></text>
<rect x="514" y="172" width="70" height="24" fill="#ffffff" stroke="#000" stroke-width="1"/>
<text y="189"><tspan x="521.14" textLength="5.72" lengthAdjust="spacingAndGlyphs">L</tspan><tspan x="527.33" textLength="5.60" lengthAdjust="spacingAndGlyphs">1</tspan><tspan x="533.26" textLength="2.27" lengthAdjust="spacingAndGlyphs">i</tspan> <tspan x="539.22" textLength="3.01" lengthAdjust="spacingAndGlyphs">(</tspan><tspan x="543.38" textLength="5.63" lengthAdjust="spacingAndGlyphs">3</tspan><tspan x="549.22" textLength="5.65" lengthAdjust="spacingAndGlyphs">2</tspan><tspan x="555.15" textLength="6.73" lengthAdjust="spacingAndGlyphs">K</tspan><tspan x="562.18" textLength="6.48" lengthAdjust="spacingAndGlyphs">B</tspan><tspan x="569.67" textLength="3.01" lengthAdjust="spacingAndGlyphs">)</tspan></text>
<rect x="514" y="203" width="70" height="69" fill="#bebebe" stroke="#000" stroke-width="1"/>
<text y="220"><tspan x="521.09" textLength="6.70" lengthAdjust="spacingAndGlyphs">C</tspan><tspan x="528.11" textLength="5.91" lengthAdjust="spacingAndGlyphs">o</tspan><tspan x="534.14" textLength="4.13" lengthAdjust="spacingAndGlyphs">r</tspan><tspan x="538.09" textLength="6.01" lengthAdjust="spacingAndGlyphs">e</tspan> <tspan x="547.14" textLength="5.72" lengthAdjust="spacingAndGlyphs">L</tspan><tspan x="553.75" textLength="6.89" lengthAdjust="spacingAndGlyphs">#</tspan><tspan x="561.25">4</tspan><tspan x="567.22" textLength="5.93" lengthAdjust="spacingAndGlyphs">8</tspan></text>
<rect x="521" y="227" width="56" height="38" fill="#ffffff" stroke="#000" stroke-width="1"/>
<text y="244"><tspan x="528.19" textLength="6.02" lengthAdjust="spacingAndGlyphs">P</tspan><tspan x="534.11" textLength="7.10" lengthAdjust="spacingAndGlyphs">U</tspan> <tspan x="544.14" textLength="5.72" lengthAdjust="spacingAndGlyphs">L</tspan><tspan x="550.75" textLength="6.89" lengthAdjust="spacingAndGlyphs">#</tspan><tspan x="558.25">4</tspan><tspan x="564.22" textLength="5.93" lengthAdjust="spacingAndGlyphs">8</tspan></text>
<text y="258"><tspan x="536.19" textLength="6.02" lengthAdjust="spacingAndGlyphs">P</tspan><tspan x="542.75" textLength="6.89" lengthAdjust="spacingAndGlyphs">#</tspan><tspan x="550.25">4</tspan><tspan x="556.22" textLength="5.93" lengthAdjust="spacingAndGlyphs">8</tspan></text>
<rect x="596" y="110" width="75" height="24" fill="#ffffff" stroke="#000" stroke-width="1"/>
<text y="127"><tspan x="603.14" textLength="5.72" lengthAdjust="spacingAndGlyphs">L</tspan><tspan x="609.22" textLength="5.65" lengthAdjust="spacingAndGlyphs">2</tspan> <tspan x="618.22" textLength="3.01" lengthAdjust="spacingAndGlyphs">(</tspan><tspan x="622.22" textLength="5.65" lengthAdjust="spacingAndGlyphs">2</tspan><tspan x="628.25">0</tspan><tspan x="634.25">4</tspan><tspan x="640.22" textLength="5.93" lengthAdjust="spacingAndGlyphs">8</tspan><tspan x="646.15" textLength="6.73" lengthAdjust="spacingAndGlyphs">K</tspan><tspan x="653.18" textLength="6.48" lengthAdjust="spacingAndGlyphs">B</tspan><tspan x="660.67" textLength="3.01" lengthAdjust="spacingAndGlyphs">)</tspan></text>
<rect x="596" y="141" width="70" height="24" fill="#ffffff" stroke="#000" stroke-width="1"/>
<text y="158"><tspan x="603.14" textLength="5.72" lengthAdjust="spacingAndGlyphs">L</tspan><tspan x="609.33" textLength="5.60" lengthAdjust="spacingAndGlyphs">1</tspan><tspan x="615.10" textLength="6.04" lengthAdjust="spacingAndGlyphs">d</tspan> <tspan x="624.22" textLength="3.01" lengthAdjust="spacingAndGlyphs">(</tspan><tspan x="628.25">4</tspan><tspan x="634.22" textLength="5.93" lengthAdjust="spacingAndGlyphs">8</tspan><tspan x="640.15" textLength="6.73" lengthAdjust="spacingAndGlyphs">K</tspan><tspan x="647.18" textLength="6.48" lengthAdjust="spacingAndGlyphs">B</tspan><tspan x="654.67" textLength="3.01" lengthAdjust="spacingAndGlyphs">)</tspan></text>
<rect x="596" y="172" width="70" height="24" fill="#ffffff" stroke="#000" stroke-width="1"/>
<text y="189"><tspan x="603.14" textLength="5.72" lengthAdjust="spacingAndGlyphs">L</tspan><tspan x="609.33" textLength="5.60" lengthAdjust="spacingAndGlyphs">1</tspan><tspan x="615.26" textLength="2.27" lengthAdjust="spacingAndGlyphs">i</tspan> <tspan x="621.22" textLength="3.01" lengthAdjust="spacingAndGlyphs">(</tspan><tspan x="625.38" textLength="5.63" lengthAdjust="spacingAndGlyphs">3</tspan><tspan x="631.22" textLength="5.65" lengthAdjust="spacingAndGlyphs">2</tspan><tspan x="637.15" textLength="6.73" lengthAdjust="spacingAndGlyphs">K</tspan><tspan x="644.18" textLength="6.48" lengthAdjust="spacingAndGlyphs">B</tspan><tspan x="651.67" textLength="3.01" lengthAdjust="spacingAndGlyphs">)</tspan></text>
<rect x="596" y="203" width="70" height="69" fill="#bebebe" stroke="#000" stroke-width="1"/>
<text y="220"><tspan x="603.09" textLength="6.70" lengthAdjust="spacingAndGlyphs">C</tspan><tspan x="610.11" textLength="5.91" lengthAdjust="spacingAndGlyphs">o</tspan><tspan x="616.14" textLength="4.13" lengthAdjust="spacingAndGlyphs">r</tspan><tspan x="620.09" textLength="6.01" lengthAdjust="spacingAndGlyphs">e</tspan> <tspan x="629.14" textLength="5.72" lengthAdjust="spacingAndGlyphs">L</tspan><tspan x="635.75" textLength="6.89" lengthAdjust="spacingAndGlyphs">#</tspan><tspan x="643.25">4</tspan><tspan x="649.12" textLength="6.06" lengthAdjust="spacingAndGlyphs">9</tspan></text>
<rect x="603" y="227" width="56" height="38" fill="#ffffff" stroke="#000" stroke-width="1"/>
<text y="244"><tspan x="610.19" textLength="6.02" lengthAdjust="spacingAndGlyphs">P</tspan><tspan x="616.11" textLength="7.10" lengthAdjust="spacingAndGlyphs">U</tspan> <tspan x="626.14" textLength="5.72" lengthAdjust="spacingAndGlyphs">L</tspan><tspan x="632.75" textLength="6.89" lengthAdjust="spacingAndGlyphs">#</tspan><tspan x="640.25">4</tspan><tspan x="646.12" textLength="6.06" lengthAdjust="spacingAndGlyphs">9</tspan></text>
<text y="258"><tspan x="618.19" textLength="6.02" lengthAdjust="spacingAndGlyphs">P</tspan><tspan x="624.75" textLength="6.89" lengthAdjust="spacingAndGlyphs">#</tspan><tspan x="632.25">4</tspan><tspan x="638.12" textLength="6.06" lengthAdjust="spacingAndGlyphs">9</tspan></text>
<rect x="728" y="110" width="75" height="24" fill="#ffffff" stroke="#000" stroke-width="1"/>
<text y="127"><tspan x="735.14" textLength="5.72" lengthAdjust="spacingAndGlyphs">L</tspan><tspan x="741.22" textLength="5.65" lengthAdjust="spacingAndGlyphs">2</tspan> <tspan x="750.22" textLength="3.01" lengthAdjust="spacingAndGlyphs">(</tspan><tspan x="754.22" textLength="5.65" lengthAdjust="spacingAndGlyphs">2</tspan><tspan x="760.25">0</tspan><tspan x="766.25">4</tspan><tspan x="772.22" textLength="5.93" lengthAdjust="spacingAndGlyphs">8</tspan><tspan x="778.15" textLength="6.73" lengthAdjust="spacingAndGlyphs">K</tspan><tspan x="785.18" textLength="6.48" lengthAdjust="spacingAndGlyphs">B</tspan><tspan x="792.67" textLength="3.01" lengthAdjust="spacingAndGlyphs">)</tspan></text>
<rect x="728" y="141" width="70" height="24" fill="#ffffff" stroke="#000" stroke-width="1"/>
<text y="158"><tspan x="735.14" textLength="5.72" lengthAdjust="spacingAndGlyphs">L</tspan><tspan x="741.33" textLength="5.60" lengthAdjust="spacingAndGlyphs">1</tspan><tspan x="747.10" textLength="6.04" lengthAdjust="spacingAndGlyphs">d</tspan> <tspan x="756.22" textLength="3.01" lengthAdjust="spacingAndGlyphs">(</tspan><tspan x="760.25">4</tspan><tspan x="766.22" textLength="5.93" lengthAdjust="spacingAndGlyphs">8</tspan><tspan x="772.15" textLength="6.73" lengthAdjust="spacingAndGlyphs">K</tspan><tspan x="779.18" textLength="6.48" lengthAdjust="spacingAndGlyphs">B</tspan><tspan x="786.67" textLength="3.01" lengthAdjust="spacingAndGlyphs">)</tspan></text>
<rect x="728" y="172" width="70" height="24" fill="#ffffff" stroke="#000" stroke-width="1"/>
<text y="189"><tspan x="735.14" textLength="5.72" lengthAdjust="spacingAndGlyphs">L</tspan><tspan x="741.33" textLength="5.60" lengthAdjust="spacingAndGlyphs">1</tspan><tspan x="747.26" textLength="2.27" lengthAdjust="spacingAndGlyphs">i</tspan> <tspan x="753.22" textLength="3.01" lengthAdjust="spacingAndGlyphs">(</tspan><tspan x="757.38" textLength="5.63" lengthAdjust="spacingAndGlyphs">3</tspan><tspan x="763.22" textLength="5.65" lengthAdjust="spacingAndGlyphs">2</tspan><tspan x="769.15" textLength="6.73" lengthAdjust="spacingAndGlyphs">K</tspan><tspan x="776.18" textLength="6.48" lengthAdjust="spacingAndGlyphs">B</tspan><tspan x="783.67" textLength="3.01" lengthAdjust="spacingAndGlyphs">)</tspan></text>
<rect x="728" y="203" width="70" height="69" fill="#bebebe" stroke="#000" stroke-width="1"/>
<text y="220"><tspan x="735.09" textLength="6.70" lengthAdjust="spacingAndGlyphs">C</tspan><tspan x="742.11" textLength="5.91" lengthAdjust="spacingAndGlyphs">o</tspan><tspan x="748.14" textLength="4.13" lengthAdjust="spacingAndGlyphs">r</tspan><tspan x="752.09" textLength="6.01" lengthAdjust="spacingAndGlyphs">e</tspan> <tspan x="761.14" textLength="5.72" lengthAdjust="spacingAndGlyphs">L</tspan><tspan x="767.75" textLength="6.89" lengthAdjust="spacingAndGlyphs">#</tspan><tspan x="775.12" textLength="6.06" lengthAdjust="spacingAndGlyphs">9</tspan><tspan x="781.37" textLength="5.53" lengthAdjust="spacingAndGlyphs">5</tspan></text>
<rect x="735" y="227" width="56" height="38" fill="#ffffff" stroke="#000" stroke-width="1"/>
<text y="244"><tspan x="742.19" textLength="6.02" lengthAdjust="spacingAndGlyphs">P</tspan><tspan x="748.11" textLength="7.10" lengthAdjust="spacingAndGlyphs">U</tspan> <tspan x="758.14" textLength="5.72" lengthAdjust="spacingAndGlyphs">L</tspan><tspan x="764.75" textLength="6.89" lengthAdjust="spacingAndGlyphs">#</tspan><tspan x="772.12" textLength="6.06" lengthAdjust="spacingAndGlyphs">9</tspan><tspan x="778.37" textLength="5.53" lengthAdjust="spacingAndGlyphs">5</tspan></text>
<text y="258"><tspan x="750.19" textLength="6.02" lengthAdjust="spacingAndGlyphs">P</tspan><tspan x="756.75" textLength="6.89" lengthAdjust="spacingAndGlyphs">#</tspan><tspan x="764.12" textLength="6.06" lengthAdjust="spacingAndGlyphs">9</tspan><tspan x="770.37" textLength="5.53" lengthAdjust="spacingAndGlyphs">5</tspan></text>
<rect x="682" y="117" width="7" height="7" fill="#ffffff" stroke="#000" stroke-width="1"/>
<rect x="696" y="117" width="7" height="7" fill="#ffffff" stroke="#000" stroke-width="1"/>
<rect x="710" y="117" width="7" height="7" fill="#ffffff" stroke="#000" stroke-width="1"/>
<text y="138"><tspan x="678.25">4</tspan><tspan x="684.22" textLength="5.93" lengthAdjust="spacingAndGlyphs">8</tspan><tspan x="690.16" textLength="5.55" lengthAdjust="spacingAndGlyphs">x</tspan> <tspan x="699.21" textLength="3.44" lengthAdjust="spacingAndGlyphs">t</tspan><tspan x="703.11" textLength="5.91" lengthAdjust="spacingAndGlyphs">o</tspan><tspan x="709.21" textLength="3.44" lengthAdjust="spacingAndGlyphs">t</tspan><tspan x="713.21" textLength="5.02" lengthAdjust="spacingAndGlyphs">a</tspan><tspan x="719.25" textLength="2.27" lengthAdjust="spacingAndGlyphs">l</tspan></text>
<rect x="810" y="79" width="7" height="7" fill="#ffffff" stroke="#000" stroke-width="1"/>
<line x1="817" y1="82" x2="824" y2="82" stroke="#000" stroke-width="1"/>
<line x1="824" y1="82" x2="848" y2="82" stroke="#000" stroke-width="1"/>
<text y="95"><tspan x="827.29" textLength="5.73" lengthAdjust="spacingAndGlyphs">7</tspan><tspan x="833.08" textLength="3.01" lengthAdjust="spacingAndGlyphs">.</tspan><tspan x="836.12" textLength="6.06" lengthAdjust="spacingAndGlyphs">9</tspan></text>
<rect x="848" y="79" width="7" height="7" fill="#ffffff" stroke="#000" stroke-width="1"/>
<line x1="855" y1="82" x2="862" y2="82" stroke="#000" stroke-width="1"/>
<line x1="862" y1="82" x2="886" y2="82" stroke="#000" stroke-width="1"/>
<text y="95"><tspan x="865.29" textLength="5.73" lengthAdjust="spacingAndGlyphs">7</tspan><tspan x="871.08" textLength="3.01" lengthAdjust="spacingAndGlyphs">.</tspan><tspan x="874.12" textLength="6.06" lengthAdjust="spacingAndGlyphs">9</tspan></text>
<rect x="886" y="79" width="76" height="114" fill="#bed295" stroke="#000" stroke-width="1"/>
<text y="96"><tspan x="893.19" textLength="6.02" lengthAdjust="spacingAndGlyphs">P</tspan><tspan x="899.09" textLength="6.70" lengthAdjust="spacingAndGlyphs">C</tspan><tspan x="906.01">I</tspan> <tspan x="912.12" textLength="6.06" lengthAdjust="spacingAndGlyphs">9</tspan><tspan x="918.12" textLength="6.06" lengthAdjust="spacingAndGlyphs">9</tspan><tspan x="924.18" textLength="3.01" lengthAdjust="spacingAndGlyphs">:</tspan><tspan x="927.25">0</tspan><tspan x="933.25">0</tspan><tspan x="939.08" textLength="3.01" lengthAdjust="spacingAndGlyphs">.</tspan><tspan x="942.25">0</tspan></text>
<rect x="893" y="103" width="62" height="38" fill="#dedede" stroke="#000" stroke-width="1"/>
<text y="120"><tspan x="900.18" textLength="6.48" lengthAdjust="spacingAndGlyphs">B</tspan><tspan x="907.25" textLength="2.27" lengthAdjust="spacingAndGlyphs">l</tspan><tspan x="910.11" textLength="5.91" lengthAdjust="spacingAndGlyphs">o</tspan><tspan x="916.13" textLength="5.02" lengthAdjust="spacingAndGlyphs">c</tspan><tspan x="922.15" textLength="5.59" lengthAdjust="spacingAndGlyphs">k</tspan> <tspan x="931.28" textLength="4.79" lengthAdjust="spacingAndGlyphs">s</tspan><tspan x="936.10" textLength="6.04" lengthAdjust="spacingAndGlyphs">d</tspan><tspan x="942.21" textLength="6.05" lengthAdjust="spacingAndGlyphs">b</tspan></text>
<text y="134"><tspan x="900.25">4</tspan><tspan x="906.38" textLength="5.63" lengthAdjust="spacingAndGlyphs">3</tspan> <tspan x="914.73" textLength="6.66" lengthAdjust="spacingAndGlyphs">T</tspan><tspan x="921.18" textLength="6.48" lengthAdjust="spacingAndGlyphs">B</tspan></text>
<rect x="893" y="148" width="62" height="38" fill="#dedede" stroke="#000" stroke-width="1"/>
<text y="165"><tspan x="900.18" textLength="6.48" lengthAdjust="spacingAndGlyphs">B</tspan><tspan x="907.25" textLength="2.27" lengthAdjust="spacingAndGlyphs">l</tspan><tspan x="910.11" textLength="5.91" lengthAdjust="spacingAndGlyphs">o</tspan><tspan x="916.13" textLength="5.02" lengthAdjust="spacingAndGlyphs">c</tspan><tspan x="922.15" textLength="5.59" lengthAdjust="spacingAndGlyphs">k</tspan> <tspan x="931.28" textLength="4.79" lengthAdjust="spacingAndGlyphs">s</tspan><tspan x="936.10" textLength="6.04" lengthAdjust="spacingAndGlyphs">d</tspan><tspan x="942.21" textLength="5.02" lengthAdjust="spacingAndGlyphs">a</tspan></text>
<text y="179"><tspan x="900.22" textLength="5.93" lengthAdjust="spacingAndGlyphs">8</tspan><tspan x="906.12" textLength="6.06" lengthAdjust="spacingAndGlyphs">9</tspan><tspan x="912.38" textLength="5.63" lengthAdjust="spacingAndGlyphs">3</tspan> <tspan x="921.07" textLength="7.59" lengthAdjust="spacingAndGlyphs">G</tspan><tspan x="929.18" textLength="6.48" lengthAdjust="spacingAndGlyphs">B</tspan></text>
<rect x="514" y="279" width="7" height="7" fill="#ffffff" stroke="#000" stroke-width="1"/>
<line x1="521" y1="282" x2="528" y2="282" stroke="#000" stroke-width="1"/>
<line x1="528" y1="282" x2="552" y2="282" stroke="#000" stroke-width="1"/>
<text y="295"><tspan x="531.38" textLength="5.63" lengthAdjust="spacingAndGlyphs">3</tspan><tspan x="537.08" textLength="3.01" lengthAdjust="spacingAndGlyphs">.</tspan><tspan x="540.12" textLength="6.06" lengthAdjust="spacingAndGlyphs">9</tspan></text>
<rect x="552" y="279" width="7" height="7" fill="#ffffff" stroke="#000" stroke-width="1"/>
<line x1="559" y1="282" x2="566" y2="282" stroke="#000" stroke-width="1"/>
<line x1="566" y1="282" x2="590" y2="282" stroke="#000" stroke-width="1"/>
<text y="295"><tspan x="569.38" textLength="5.63" lengthAdjust="spacingAndGlyphs">3</tspan><tspan x="575.08" textLength="3.01" lengthAdjust="spacingAndGlyphs">.</tspan><tspan x="578.12" textLength="6.06" lengthAdjust="spacingAndGlyphs">9</tspan></text>
<rect x="590" y="279" width="105" height="69" fill="#bed295" stroke="#000" stroke-width="1"/>
<text y="296"><tspan x="597.19" textLength="6.02" lengthAdjust="spacingAndGlyphs">P</tspan><tspan x="603.09" textLength="6.70" lengthAdjust="spacingAndGlyphs">C</tspan><tspan x="610.01">I</tspan> <tspan x="616.13" textLength="5.02" lengthAdjust="spacingAndGlyphs">c</tspan><tspan x="622.10" textLength="6.04" lengthAdjust="spacingAndGlyphs">d</tspan><tspan x="628.18" textLength="3.01" lengthAdjust="spacingAndGlyphs">:</tspan><tspan x="631.25">0</tspan><tspan x="637.25">0</tspan><tspan x="643.08" textLength="3.01" lengthAdjust="spacingAndGlyphs">.</tspan><tspan x="646.25">0</tspan></text>
<rect x="597" y="303" width="91" height="38" fill="#dedede" stroke="#000" stroke-width="1"/>
<text y="320"><tspan x="604.18" textLength="6.48" lengthAdjust="spacingAndGlyphs">B</tspan><tspan x="611.25" textLength="2.27" lengthAdjust="spacingAndGlyphs">l</tspan><tspan x="614.11" textLength="5.91" lengthAdjust="spacingAndGlyphs">o</tspan><tspan x="620.13" textLength="5.02" lengthAdjust="spacingAndGlyphs">c</tspan><tspan x="626.15" textLength="5.59" lengthAdjust="spacingAndGlyphs">k</tspan> <tspan x="635.19" textLength="6.00" lengthAdjust="spacingAndGlyphs">n</tspan><tspan x="641.26" textLength="5.40" lengthAdjust="spacingAndGlyphs">v</tspan><tspan x="647.15" textLength="9.49" lengthAdjust="spacingAndGlyphs">m</tspan><tspan x="657.09" textLength="6.01" lengthAdjust="spacingAndGlyphs">e</tspan><tspan x="663.25">0</tspan><tspan x="669.19" textLength="6.00" lengthAdjust="spacingAndGlyphs">n</tspan><tspan x="675.33" textLength="5.60" lengthAdjust="spacingAndGlyphs">1</tspan></text>
<text y="334"><tspan x="604.29" textLength="5.73" lengthAdjust="spacingAndGlyphs">7</tspan><tspan x="610.33" textLength="5.60" lengthAdjust="spacingAndGlyphs">1</tspan><tspan x="616.37" textLength="5.53" lengthAdjust="spacingAndGlyphs">5</tspan><tspan x="622.38" textLength="5.63" lengthAdjust="spacingAndGlyphs">3</tspan> <tspan x="631.07" textLength="7.59" lengthAdjust="spacingAndGlyphs">G</tspan><tspan x="639.18" textLength="6.48" lengthAdjust="spacingAndGlyphs">B</tspan></text>
<rect x="702" y="279" width="7" height="7" fill="#ffffff" stroke="#000" stroke-width="1"/>
<line x1="709" y1="282" x2="716" y2="282" stroke="#000" stroke-width="1"/>
<line x1="716" y1="282" x2="740" y2="282" stroke="#000" stroke-width="1"/>
<rect x="740" y="279" width="69" height="24" fill="#bed295" stroke="#000" stroke-width="1"/>
<text y="296"><tspan x="747.19" textLength="6.02" lengthAdjust="spacingAndGlyphs">P</tspan><tspan x="753.09" textLength="6.70" lengthAdjust="spacingAndGlyphs">C</tspan><tspan x="760.01">I</tspan> <tspan x="766.09" textLength="6.01" lengthAdjust="spacingAndGlyphs">e</tspan><tspan x="772.22" textLength="5.93" lengthAdjust="spacingAndGlyphs">8</tspan><tspan x="778.18" textLength="3.01" lengthAdjust="spacingAndGlyphs">:</tspan><tspan x="781.25">0</tspan><tspan x="787.25">0</tspan><tspan x="793.08" textLength="3.01" lengthAdjust="spacingAndGlyphs">.</tspan><tspan x="796.25">0</tspan></text>
<rect x="514" y="355" width="7" height="7" fill="#ffffff" stroke="#000" stroke-width="1"/>
<line x1="521" y1="358" x2="528" y2="358" stroke="#000" stroke-width="1"/>
<line x1="528" y1="358" x2="552" y2="358" stroke="#000" stroke-width="1"/>
<rect x="552" y="355" width="69" height="24" fill="#bed295" stroke="#000" stroke-width="1"/>
<text y="372"><tspan x="559.19" textLength="6.02" lengthAdjust="spacingAndGlyphs">P</tspan><tspan x="565.09" textLength="6.70" lengthAdjust="spacingAndGlyphs">C</tspan><tspan x="572.01">I</tspan> <tspan x="578.09" textLength="6.01" lengthAdjust="spacingAndGlyphs">e</tspan><tspan x="584.21" textLength="5.02" lengthAdjust="spacingAndGlyphs">a</tspan><tspan x="590.18" textLength="3.01" lengthAdjust="spacingAndGlyphs">:</tspan><tspan x="593.25">0</tspan><tspan x="599.25">0</tspan><tspan x="605.08" textLength="3.01" lengthAdjust="spacingAndGlyphs">.</tspan><tspan x="608.25">0</tspan></text>
</svg>
</body></html>
